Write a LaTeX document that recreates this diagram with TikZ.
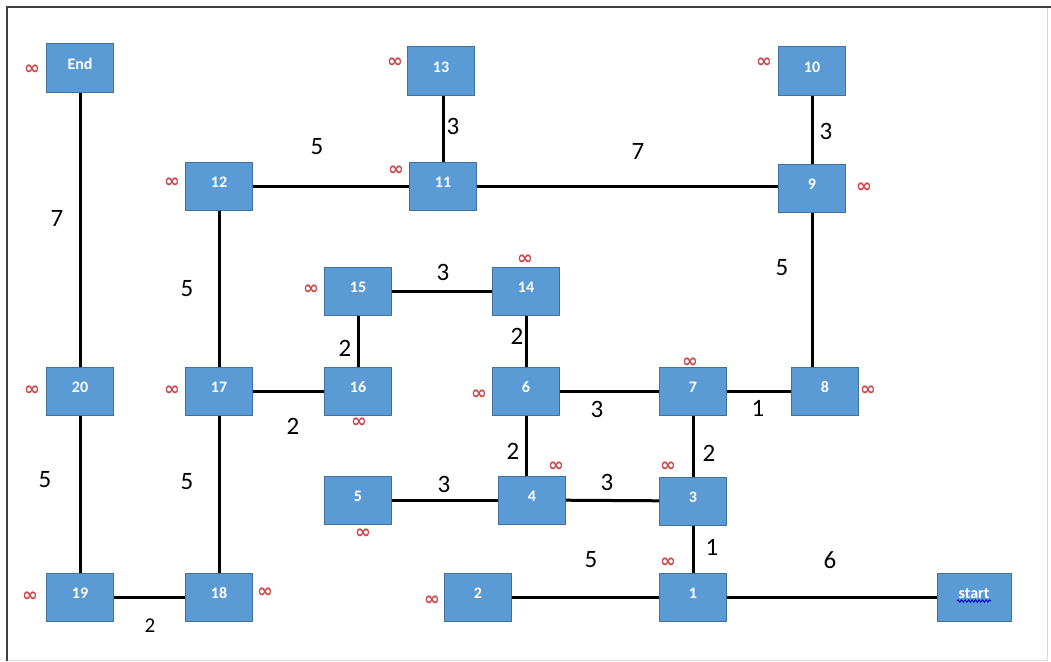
\documentclass[tikz,border=0pt]{standalone}
\usepackage{fontspec}
\usetikzlibrary{decorations.pathmorphing}
\setmainfont{Carlito}
\newfontfamily\symfont{DejaVu Sans}
\definecolor{boxfill}{HTML}{5B9BD5}
\definecolor{boxline}{HTML}{41719C}
\definecolor{infred}{HTML}{D0454A}
\begin{document}
\begin{tikzpicture}[x=1pt,y=-1pt,
  vbox/.style={draw=boxline,line width=1pt,fill=boxfill,minimum width=67pt,minimum height=48pt,inner sep=0pt,text height=11pt,text depth=9pt,text=white,font=\bfseries\fontsize{16}{16}\selectfont},
  edge/.style={line width=3pt,black},
  wlab/.style={font=\fontsize{25}{25}\selectfont,inner sep=0pt},
  slab/.style={font=\fontsize{21}{21}\selectfont,inner sep=0pt},
  inf/.style={text=infred,font=\symfont\bfseries\fontsize{19}{19}\selectfont,inner sep=0pt}]
\useasboundingbox (0,0) rectangle (1051,661);
\draw[line width=2pt,black!75] (6,7) -- (1051,7);
\draw[line width=2pt,black!75] (7,6) -- (7,661);
\draw[line width=0.6pt,black!15] (1047,8) -- (1047,660) -- (8,660);
% boxes
\node[vbox] (End) at (80,68) {End};
\node[vbox] (n13) at (441,71) {13};
\node[vbox] (n10) at (812,71) {10};
\node[vbox] (n12) at (219,186) {12};
\node[vbox] (n11) at (443,186) {11};
\node[vbox] (n9) at (812,188) {9};
\node[vbox] (n15) at (358,291) {15};
\node[vbox] (n14) at (526,291) {14};
\node[vbox] (n20) at (80,391) {20};
\node[vbox] (n17) at (219,391) {17};
\node[vbox] (n16) at (358,391) {16};
\node[vbox] (n6) at (526,391) {6};
\node[vbox] (n7) at (693,391) {7};
\node[vbox] (n8) at (825,391) {8};
\node[vbox] (n5) at (358,500) {5};
\node[vbox] (n4) at (532,500) {4};
\node[vbox] (n3) at (693,501) {3};
\node[vbox] (n19) at (80,597) {19};
\node[vbox] (n18) at (219,597) {18};
\node[vbox] (n2) at (478,597) {2};
\node[vbox] (n1) at (693,597) {1};
\node[vbox,minimum width=74pt] (start) at (974,597) {start};
\draw[blue!80!black,line width=0.9pt,decorate,decoration={snake,amplitude=1.2pt,segment length=3.5pt}]
  ([xshift=-17pt,yshift=-4pt]start.center) -- ([xshift=17pt,yshift=-4pt]start.center);
% edges
\draw[edge] (End) -- (n20);
\draw[edge] (n20) -- (n19);
\draw[edge] (n17) -- (n18);
\draw[edge] (n19) -- (n18);
\draw[edge] (n12) -- (n17);
\draw[edge] (n12) -- (n11);
\draw[edge] (n11) -- (n11 |- n13.south);
\draw[edge] (n11) -- (n11 -| n9.west);
\draw[edge] (n10) -- (n9);
\draw[edge] (n9) -- (n9 |- n8.north);
\draw[edge] (n17) -- (n16);
\draw[edge] (n15) -- (n16);
\draw[edge] (n15) -- (n14);
\draw[edge] (n14) -- (n6);
\draw[edge] (n6) -- (n7);
\draw[edge] (n7) -- (n8);
\draw[edge] (n7) -- (n3);
\draw[edge] (n6) -- (n6 |- n4.north);
\draw[edge] (n5) -- (n4);
\draw[edge] (n4) -- (n3);
\draw[edge] (n3) -- (n1);
\draw[edge] (n2) -- (n1);
\draw[edge] (n1) -- (start);
% weights
\node[wlab] (w1) at (57,218) {7};
\node[wlab] (w2) at (45,480) {5};
\node[wlab] (w3) at (187,482) {5};
\node[slab] (w4) at (150,626) {2};
\node[wlab] (w5) at (187,289) {5};
\node[wlab] (w6) at (317,147) {5};
\node[wlab] (w7) at (453,126) {3};
\node[wlab] (w8) at (638,151) {7};
\node[wlab] (w9) at (826,131) {3};
\node[wlab] (w10) at (782,268) {5};
\node[wlab] (w11) at (293,426) {2};
\node[wlab] (w12) at (345,348) {2};
\node[wlab] (w13) at (443,272) {3};
\node[wlab] (w14) at (517,336) {2};
\node[wlab] (w15) at (597,409) {3};
\node[wlab] (w16) at (758,408) {1};
\node[wlab] (w17) at (709,453) {2};
\node[wlab] (w18) at (513,451) {2};
\node[wlab] (w19) at (444,484) {3};
\node[wlab] (w20) at (607,482) {3};
\node[wlab] (w21) at (712,547) {1};
\node[wlab] (w22) at (591,560) {5};
\node[wlab] (w23) at (830,560) {6};
% infinity marks
\node[inf] (i1) at (32,70) {∞};
\node[inf] (i2) at (395,63) {∞};
\node[inf] (i3) at (764,63) {∞};
\node[inf] (i4) at (172,183) {∞};
\node[inf] (i5) at (396,171) {∞};
\node[inf] (i6) at (864,188) {∞};
\node[inf] (i7) at (311,290) {∞};
\node[inf] (i8) at (525,260) {∞};
\node[inf] (i9) at (32,391) {∞};
\node[inf] (i10) at (172,391) {∞};
\node[inf] (i11) at (359,423) {∞};
\node[inf] (i12) at (479,395) {∞};
\node[inf] (i13) at (690,363) {∞};
\node[inf] (i14) at (868,391) {∞};
\node[inf] (i15) at (363,534) {∞};
\node[inf] (i16) at (556,467) {∞};
\node[inf] (i17) at (668,467) {∞};
\node[inf] (i18) at (30,597) {∞};
\node[inf] (i19) at (265,593) {∞};
\node[inf] (i20) at (432,601) {∞};
\node[inf] (i21) at (668,563) {∞};
\end{tikzpicture}
\end{document}
